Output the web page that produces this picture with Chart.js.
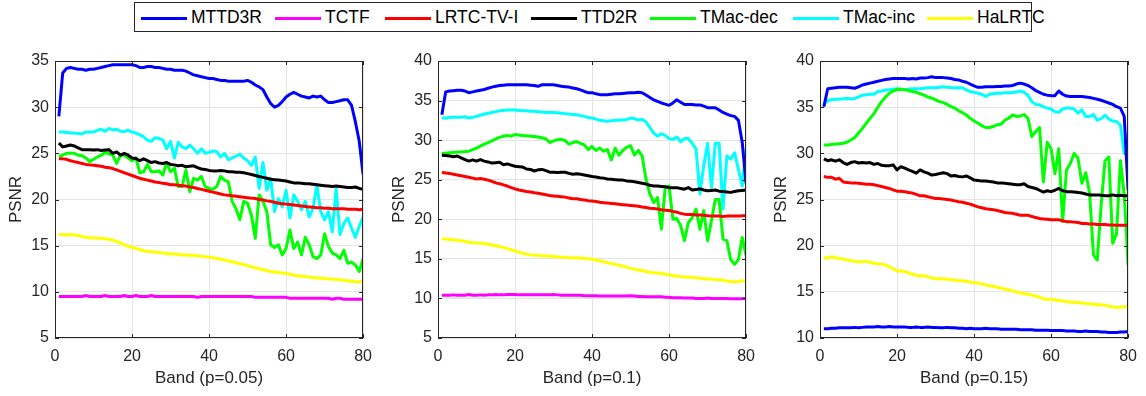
<!DOCTYPE html>
<html>
<head>
<meta charset="utf-8">
<script src="https://cdn.jsdelivr.net/npm/chart.js@4.4.0/dist/chart.umd.min.js"></script>
<style>
  body { margin: 0; width: 1146px; height: 396px; background: #fff; position: relative; overflow: hidden;
         font-family: "Liberation Sans", Arial, sans-serif; color: #000; }
  #legend { position: absolute; left: 134px; top: 2px; width: 898px; height: 30px; box-sizing: border-box;
            border: 1px solid #262626; background: #fff; }
  #legend .sw { position: absolute; top: 14px; height: 3px; width: 46px; }
  #legend .tx { position: absolute; top: 4px; font-size: 17.5px; line-height: 21px; white-space: nowrap; }
  canvas { position: absolute; top: 40px; }
</style>
</head>
<body>
<div id="legend"></div>
<canvas id="c1" width="386" height="356" style="left:-5px"></canvas>
<canvas id="c2" width="386" height="356" style="left:378px"></canvas>
<canvas id="c3" width="386" height="356" style="left:760px"></canvas>
<script>
// band index (x)
const bands = [1,2,3,4,5,6,7,8,9,10,11,12,13,14,15,16,17,18,19,20,
  21,22,23,24,25,26,27,28,29,30,31,32,33,34,35,36,37,38,39,40,
  41,42,43,44,45,46,47,48,49,50,51,52,53,54,55,56,57,58,59,60,
  61,62,63,64,65,66,67,68,69,70,71,72,73,74,75,76,77,78,79,80];

const methods = ['MTTD3R', 'TCTF', 'LRTC-TV-I', 'TTD2R', 'TMac-dec', 'TMac-inc', 'HaLRTC'];
const xTicks = [0, 20, 40, 60, 80];

// ---- p = 0.05 ----
const mttd3r_005 = [29.0,33.7,34.2,34.3,34.2,34.1,34.1,34.0,34.1,34.1, 34.2,34.3,34.4,34.5,34.6,34.6,34.6,34.6,34.6,34.6,
  34.5,34.3,34.3,34.4,34.4,34.3,34.3,34.2,34.1,34.1, 34.0,34.0,34.0,33.9,33.7,33.5,33.4,33.3,33.2,33.1,
  33.1,33.0,32.9,32.9,32.8,32.8,32.8,32.8,32.8,32.9, 32.7,32.4,32.2,31.9,31.1,30.4,30.0,30.2,30.6,31.1,
  31.4,31.6,31.4,31.2,31.1,31.0,31.2,31.1,31.2,30.8, 30.5,30.5,30.6,30.7,30.8,30.8,30.2,28.4,26.3,22.7];
const tctf_005 = [9.5,9.5,9.5,9.5,9.5,9.5,9.5,9.6,9.5,9.5, 9.5,9.5,9.6,9.5,9.5,9.5,9.5,9.6,9.5,9.5,
  9.6,9.5,9.5,9.5,9.6,9.5,9.5,9.5,9.5,9.5, 9.5,9.5,9.5,9.5,9.5,9.5,9.4,9.5,9.5,9.5,
  9.5,9.5,9.5,9.5,9.5,9.5,9.5,9.5,9.5,9.5, 9.5,9.4,9.4,9.4,9.4,9.4,9.4,9.4,9.4,9.4,
  9.3,9.3,9.3,9.3,9.3,9.3,9.3,9.3,9.3,9.3, 9.3,9.2,9.3,9.3,9.2,9.2,9.2,9.2,9.2,9.2];
const lrtc_005 = [24.4,24.4,24.35,24.2,24.1,24.0,23.9,23.8,23.75,23.7, 23.65,23.6,23.5,23.45,23.35,23.2,23.05,22.9,22.75,22.6,
  22.45,22.3,22.2,22.1,22.0,21.9,21.85,21.75,21.7,21.6, 21.6,21.55,21.5,21.45,21.35,21.3,21.2,21.1,21.0,20.9,
  20.8,20.7,20.6,20.5,20.45,20.4,20.35,20.3,20.25,20.2, 20.15,20.1,20.0,19.95,19.85,19.8,19.7,19.6,19.55,19.5,
  19.45,19.4,19.35,19.3,19.25,19.2,19.15,19.1,19.1,19.05, 19.05,19.0,19.0,19.0,19.0,18.95,18.95,18.95,18.9,18.95];
const ttd2r_005 = [26.1,25.7,25.8,25.9,25.8,25.6,25.4,25.4,25.4,25.35, 25.4,25.3,25.35,25.4,25.0,25.15,24.8,25.0,24.8,24.5,
  24.45,24.2,24.4,24.2,24.0,24.1,23.95,23.9,24.0,23.8, 23.75,23.65,23.7,23.55,23.6,23.65,23.45,23.3,23.25,23.15,
  23.1,23.1,23.15,23.1,23.0,23.0,22.95,22.95,22.9,22.8, 22.7,22.6,22.5,22.4,22.3,22.2,22.15,22.1,22.05,22.0,
  21.9,21.8,21.8,21.75,21.7,21.7,21.65,21.6,21.55,21.5, 21.45,21.4,21.45,21.4,21.35,21.3,21.3,21.35,21.2,21.1];
const tmacdec_005 = [24.7,24.8,25.0,25.0,25.0,24.8,24.75,24.5,24.1,24.35, 24.6,24.8,25.1,24.95,24.8,23.9,24.8,24.8,24.5,24.2,
  24.5,22.9,23.0,23.8,23.0,23.0,23.1,22.65,24.0,23.0, 23.4,21.4,21.4,23.2,20.85,22.3,22.1,22.5,21.4,21.2,
  21.1,21.4,22.5,22.1,21.9,19.8,19.0,17.8,19.8,19.6, 18.3,15.8,20.5,19.8,18.7,15.1,14.8,15.1,14.0,14.7,
  16.7,14.7,15.4,14.0,15.9,15.1,13.8,13.6,14.0,16.3, 14.9,14.2,14.0,13.6,14.5,13.1,13.2,12.9,12.2,13.6];
const tmacinc_005 = [27.3,27.3,27.25,27.2,27.2,27.15,27.1,27.3,27.3,27.3, 27.5,27.6,27.4,27.7,27.55,27.6,27.4,27.35,27.5,27.3,
  27.2,27.0,26.8,26.4,26.3,26.7,26.6,26.45,25.5,26.3, 24.5,26.2,25.7,25.5,25.9,25.5,25.0,25.5,25.0,25.1,
  25.25,25.2,24.6,25.0,24.3,24.5,24.7,24.9,24.5,24.2, 23.7,24.6,21.2,24.0,21.0,22.3,18.7,20.1,19.2,21.0,
  18.0,20.5,19.8,18.9,19.8,18.1,19.0,21.6,18.7,17.8, 18.7,16.5,21.2,16.2,17.4,18.0,16.9,15.9,17.1,18.1];
const halrtc_005 = [16.2,16.2,16.15,16.2,16.15,16.1,16.0,15.9,15.85,15.85, 15.8,15.8,15.75,15.7,15.6,15.45,15.3,15.1,14.95,14.8,
  14.7,14.55,14.45,14.4,14.35,14.3,14.25,14.2,14.15,14.1, 14.1,14.05,14.0,14.0,13.95,13.95,13.9,13.85,13.8,13.75,
  13.7,13.6,13.55,13.45,13.35,13.25,13.15,13.05,12.95,12.85, 12.7,12.6,12.5,12.4,12.3,12.2,12.15,12.1,12.05,12.0,
  11.9,11.8,11.75,11.7,11.65,11.6,11.55,11.5,11.5,11.45, 11.4,11.4,11.35,11.3,11.25,11.2,11.15,11.1,11.1,11.15];

// ---- p = 0.1 ----
const mttd3r_01 = [33.2,36.1,36.2,36.25,36.3,36.3,36.2,36.0,36.1,36.2, 36.3,36.4,36.55,36.7,36.8,36.9,36.95,37.0,37.0,37.0,
  37.0,37.0,37.0,36.95,36.9,36.8,37.0,37.0,37.0,37.0, 36.9,36.8,36.75,36.7,36.6,36.5,36.35,36.15,36.0,36.0,
  35.85,35.75,35.75,35.75,35.8,35.85,35.85,35.9,35.95,36.0, 36.0,36.05,36.0,35.7,35.4,35.1,34.9,34.7,34.55,34.4,
  34.7,35.1,34.8,34.5,34.5,34.5,34.45,34.45,34.3,34.1, 34.1,34.1,33.8,33.5,33.3,33.1,33.0,32.5,29.7,24.5];
const tctf_01 = [10.4,10.4,10.4,10.45,10.4,10.4,10.4,10.5,10.4,10.4, 10.45,10.4,10.45,10.45,10.5,10.45,10.45,10.5,10.5,10.5,
  10.45,10.45,10.45,10.45,10.45,10.45,10.45,10.45,10.45,10.5, 10.45,10.4,10.4,10.4,10.4,10.4,10.4,10.35,10.35,10.35,
  10.35,10.3,10.3,10.3,10.3,10.3,10.3,10.3,10.3,10.35, 10.3,10.25,10.25,10.2,10.2,10.2,10.2,10.2,10.15,10.15,
  10.1,10.1,10.1,10.05,10.05,10.05,10.0,10.0,10.0,10.05, 10.0,10.0,10.0,10.0,10.0,9.95,9.95,9.95,9.95,10.0];
const lrtc_01 = [25.9,25.85,25.8,25.7,25.6,25.5,25.4,25.3,25.2,25.1, 25.15,25.05,24.95,24.8,24.6,24.5,24.35,24.2,24.0,23.85,
  23.7,23.6,23.5,23.45,23.35,23.3,23.2,23.1,23.0,22.95, 22.9,22.85,22.8,22.7,22.6,22.6,22.5,22.45,22.35,22.3,
  22.25,22.15,22.1,22.05,22.0,21.95,21.9,21.85,21.8,21.75, 21.7,21.65,21.55,21.5,21.4,21.35,21.3,21.2,21.15,21.1,
  21.0,20.9,20.75,20.65,20.6,20.6,20.55,20.55,20.5,20.45, 20.4,20.4,20.4,20.35,20.4,20.4,20.4,20.4,20.45,20.45];
const ttd2r_01 = [28.1,28.05,28.0,27.9,28.0,27.75,27.55,27.35,27.5,27.35, 27.55,27.35,27.25,27.1,27.15,27.2,26.9,27.0,26.85,26.7,
  26.65,26.6,26.35,26.3,26.1,26.25,26.3,26.15,25.95,25.95, 25.9,25.95,25.95,25.8,25.7,25.75,25.7,25.6,25.5,25.4,
  25.35,25.25,25.2,25.1,25.05,25.0,24.95,24.95,24.85,24.8, 24.75,24.65,24.55,24.45,24.3,24.2,24.2,24.15,24.1,24.0,
  24.0,24.0,23.9,23.8,24.0,23.7,23.75,23.85,23.7,23.6, 23.65,23.7,23.55,23.5,23.45,23.4,23.5,23.6,23.65,23.7];
const tmacdec_01 = [28.3,28.35,28.4,28.45,28.5,28.5,28.55,28.6,28.8,29.0, 29.25,29.5,29.7,29.9,30.15,30.35,30.5,30.6,30.5,30.7,
  30.65,30.6,30.55,30.5,30.45,30.4,30.3,30.15,29.7,29.9, 30.05,30.1,29.95,29.5,29.7,29.8,29.6,29.4,28.8,29.2,
  28.7,29.0,28.6,28.8,27.5,29.0,28.1,28.7,29.1,29.3, 28.1,28.7,28.0,25.1,23.2,22.1,22.75,18.75,24.0,24.2,
  20.0,20.1,19.2,17.3,19.6,20.2,21.3,18.75,21.1,17.3, 19.8,22.5,22.5,17.5,17.3,14.9,14.3,14.9,17.7,15.4];
const tmacinc_01 = [32.8,32.8,32.85,32.9,32.9,32.9,32.95,32.8,32.9,33.0, 33.15,33.3,33.4,33.5,33.6,33.7,33.75,33.8,33.8,33.8,
  33.75,33.7,33.7,33.65,33.65,33.6,33.55,33.5,33.5,33.5, 33.45,33.4,33.35,33.3,33.25,33.2,33.1,33.0,32.85,32.8,
  32.65,32.5,32.45,32.4,32.45,32.5,32.5,32.55,32.6,32.8, 32.7,32.55,32.65,32.3,31.6,30.9,30.5,30.8,30.6,30.2,
  30.1,30.4,29.8,30.2,30.2,29.6,28.9,23.2,26.8,29.6, 24.0,29.6,29.6,21.3,28.0,27.6,28.4,26.35,24.2,29.0];
const halrtc_01 = [17.5,17.5,17.45,17.4,17.35,17.3,17.2,17.1,17.05,17.0, 17.0,16.95,16.85,16.75,16.65,16.55,16.45,16.3,16.15,16.0,
  15.85,15.7,15.6,15.5,15.45,15.45,15.4,15.35,15.35,15.3, 15.25,15.2,15.2,15.15,15.15,15.15,15.1,15.05,15.0,14.95,
  14.85,14.75,14.65,14.5,14.4,14.3,14.2,14.1,13.95,13.8, 13.7,13.6,13.5,13.4,13.3,13.25,13.2,13.15,13.05,13.0,
  12.9,12.8,12.75,12.7,12.7,12.65,12.6,12.55,12.5,12.45, 12.45,12.4,12.35,12.3,12.2,12.1,12.1,12.15,12.2,12.25];

// ---- p = 0.15 ----
const mttd3r_015 = [35.05,37.0,37.05,37.1,37.15,37.15,37.15,37.1,37.05,37.2, 37.4,37.5,37.6,37.7,37.8,37.9,38.0,38.05,38.1,38.1,
  38.1,38.1,38.05,38.1,38.05,38.15,38.15,38.2,38.3,38.2, 38.2,38.2,38.15,38.1,38.0,37.95,37.8,37.7,37.5,37.3,
  37.15,37.15,37.2,37.2,37.2,37.25,37.25,37.3,37.3,37.35, 37.5,37.6,37.5,37.35,37.1,36.8,36.6,36.4,36.3,36.25,
  36.25,36.75,36.4,36.2,36.15,36.15,36.15,36.15,36.1,36.05, 35.95,35.85,35.75,35.6,35.45,35.3,35.05,34.9,34.0,26.0];
const tctf_015 = [11.0,11.0,11.05,11.05,11.1,11.1,11.1,11.1,11.15,11.1, 11.15,11.2,11.2,11.2,11.25,11.2,11.2,11.25,11.2,11.2,
  11.2,11.2,11.15,11.15,11.2,11.15,11.15,11.2,11.15,11.15, 11.1,11.1,11.15,11.1,11.1,11.05,11.05,11.0,11.05,11.0,
  11.0,11.0,11.05,11.0,11.0,11.0,10.95,10.95,10.95,10.95, 10.95,10.9,10.9,10.9,10.9,10.85,10.85,10.85,10.85,10.8,
  10.8,10.8,10.8,10.75,10.75,10.75,10.7,10.7,10.75,10.7, 10.7,10.7,10.65,10.65,10.6,10.6,10.6,10.65,10.65,10.7];
const lrtc_015 = [27.5,27.4,27.4,27.2,27.3,26.9,26.85,26.8,26.8,26.75, 26.7,26.65,26.65,26.6,26.5,26.4,26.3,26.2,26.05,25.9,
  25.9,25.85,25.75,25.7,25.55,25.4,25.4,25.3,25.2,25.1, 25.1,25.05,25.0,24.95,24.85,24.75,24.7,24.6,24.5,24.35,
  24.2,24.1,24.0,23.95,23.9,23.8,23.7,23.6,23.55,23.5, 23.4,23.3,23.3,23.3,23.15,23.05,22.95,22.9,22.85,22.8,
  22.8,22.8,22.7,22.6,22.6,22.55,22.5,22.4,22.4,22.35, 22.35,22.3,22.3,22.3,22.25,22.25,22.2,22.2,22.2,22.2];
const ttd2r_015 = [29.4,29.2,29.3,29.15,29.3,29.0,28.8,29.0,29.1,28.95, 29.0,28.95,29.0,28.8,28.9,28.7,28.65,28.65,28.75,28.2,
  28.55,28.4,28.2,28.05,27.85,28.2,28.0,27.85,27.65,27.7, 27.8,27.9,27.8,27.55,27.6,27.5,27.45,27.55,27.35,27.1,
  27.05,27.0,27.0,26.95,26.9,26.8,26.8,26.75,26.7,26.65, 26.6,26.6,26.7,26.4,26.3,26.2,26.0,25.8,25.95,25.85,
  26.0,26.2,25.95,25.85,25.85,25.8,25.75,25.7,25.6,25.5, 25.5,25.5,25.45,25.4,25.4,25.5,25.4,25.45,25.4,25.4];
const tmacdec_015 = [30.9,30.9,30.95,31.0,31.05,31.1,31.2,31.45,31.7,32.2, 32.7,33.25,33.8,34.3,35.0,35.6,36.1,36.5,36.75,36.9,
  36.95,36.9,36.8,36.7,36.6,36.45,36.3,36.1,36.0,35.8, 35.6,35.5,35.3,35.05,34.9,34.6,34.4,34.15,33.8,33.5,
  33.25,33.0,32.8,32.8,32.9,33.1,33.15,33.6,33.8,34.15, 34.0,34.05,34.2,33.8,31.8,32.35,32.8,26.9,31.2,30.5,
  27.8,30.5,22.6,28.2,28.9,30.0,29.45,26.75,27.9,25.7, 19.0,18.45,24.4,29.2,29.6,20.25,21.3,29.2,25.5,17.9];
const tmacinc_015 = [35.35,35.7,35.8,35.85,35.85,35.9,35.95,35.9,35.95,36.1, 36.3,36.35,36.4,36.4,36.7,36.75,36.85,36.9,36.95,37.0,
  36.95,36.9,36.95,37.0,37.0,37.0,37.05,37.1,37.1,37.1, 37.15,37.2,37.15,37.1,37.1,37.1,37.1,36.85,36.7,36.6,
  36.5,36.4,36.15,36.4,36.45,36.5,36.5,36.55,36.55,36.6, 36.65,36.75,36.6,36.3,35.6,35.3,35.25,35.05,34.9,34.8,
  34.5,34.45,34.8,34.9,34.9,34.8,34.35,34.7,34.0,34.0, 34.2,33.6,33.75,34.15,33.7,33.5,33.45,33.05,30.0,32.2];
const halrtc_015 = [18.7,18.65,18.8,18.7,18.6,18.55,18.45,18.4,18.3,18.25, 18.25,18.3,18.2,18.1,18.05,18.0,17.9,17.75,17.5,17.25,
  17.25,17.2,17.05,16.9,16.8,16.75,16.75,16.65,16.5,16.4, 16.45,16.4,16.4,16.3,16.25,16.2,16.2,16.15,16.05,16.0,
  15.95,15.85,15.75,15.65,15.6,15.5,15.4,15.3,15.2,15.1, 15.0,14.9,14.8,14.75,14.65,14.55,14.4,14.25,14.2,14.2,
  14.15,14.05,14.0,13.95,13.9,13.85,13.85,13.8,13.75,13.7, 13.65,13.6,13.6,13.55,13.45,13.35,13.3,13.35,13.35,13.45];

// line colours (the third panel draws TCTF in blue, as in the original figure)
const colors = ['#0000ff', '#ff00ff', '#ff0000', '#000000', '#00ff00', '#00ffff', '#ffff00'];
const colors015 = ['#0000ff', '#0000ff', '#ff0000', '#000000', '#00ff00', '#00ffff', '#ffff00'];

// legend
const legendX = [6, 140, 250, 396, 515, 658, 792]; // swatch left, relative to legend box
const legend = document.getElementById('legend');
methods.forEach((m, i) => {
  const sw = document.createElement('div');
  sw.className = 'sw';
  sw.style.left = legendX[i] + 'px';
  sw.style.background = colors[i];
  const tx = document.createElement('div');
  tx.className = 'tx';
  tx.style.left = (legendX[i] + 50) + 'px';
  tx.textContent = m;
  legend.appendChild(sw);
  legend.appendChild(tx);
});

// MATLAB-style box with inward ticks
const boxPlugin = {
  id: 'box',
  afterDatasetsDraw(chart) {
    const { ctx, chartArea: a, scales: { x, y } } = chart;
    ctx.save();
    ctx.strokeStyle = '#262626';
    ctx.lineWidth = 1;
    ctx.strokeRect(Math.round(a.left) + 0.5, Math.round(a.top) + 0.5,
      Math.round(a.right - a.left) - 1, Math.round(a.bottom - a.top) - 1);
    ctx.beginPath();
    x.ticks.forEach(t => {
      const px = Math.round(x.getPixelForValue(t.value)) + 0.5;
      ctx.moveTo(px, a.bottom); ctx.lineTo(px, a.bottom - 4);
      ctx.moveTo(px, a.top); ctx.lineTo(px, a.top + 4);
    });
    y.ticks.forEach(t => {
      const py = Math.round(y.getPixelForValue(t.value)) + 0.5;
      ctx.moveTo(a.left, py); ctx.lineTo(a.left + 4, py);
      ctx.moveTo(a.right, py); ctx.lineTo(a.right - 4, py);
    });
    ctx.stroke();
    ctx.restore();
  }
};

function makeChart(id, series, cols, yMin, yMax, xTitle) {
  const datasets = series.map((vals, i) => ({
    label: methods[i],
    data: bands.map((b, j) => ({ x: b, y: vals[j] })),
    borderColor: cols[i],
    backgroundColor: cols[i],
    borderWidth: 3,
    pointRadius: 0,
    tension: 0,
    borderJoinStyle: 'round',
    fill: false
  }));
  new Chart(document.getElementById(id).getContext('2d'), {
    type: 'line',
    data: { datasets },
    plugins: [boxPlugin],
    options: {
      responsive: false,
      animation: false,
      devicePixelRatio: 1,
      layout: { padding: { left: 0, right: 14, top: 21, bottom: 0 } },
      plugins: { legend: { display: false }, tooltip: { enabled: false } },
      scales: {
        x: {
          type: 'linear', min: 0, max: 80,
          afterBuildTicks: s => { s.ticks = xTicks.map(v => ({ value: v })); },
          afterFit: s => { s.height = 58; },
          ticks: { color: '#262626', font: { size: 16, family: 'Liberation Sans' }, padding: 9, maxRotation: 0 },
          grid: { color: '#e4e4e4', drawTicks: false },
          border: { display: false },
          title: { display: true, text: xTitle, color: '#262626',
                   font: { size: 17, family: 'Liberation Sans' }, padding: { top: 7, bottom: 7 } }
        },
        y: {
          type: 'linear', min: yMin, max: yMax,
          afterFit: s => { s.width = 60; },
          ticks: { stepSize: 5, color: '#262626', font: { size: 16, family: 'Liberation Sans' }, padding: 6 },
          grid: { color: '#e4e4e4', drawTicks: false },
          border: { display: false },
          title: { display: true, text: 'PSNR', color: '#262626',
                   font: { size: 17, family: 'Liberation Sans' }, padding: { top: 11, bottom: 11 } }
        }
      }
    }
  });
}

makeChart('c1', [mttd3r_005, tctf_005, lrtc_005, ttd2r_005, tmacdec_005, tmacinc_005, halrtc_005],
  colors, 5, 35, 'Band (p=0.05)');
makeChart('c2', [mttd3r_01, tctf_01, lrtc_01, ttd2r_01, tmacdec_01, tmacinc_01, halrtc_01],
  colors, 5, 40, 'Band (p=0.1)');
makeChart('c3', [mttd3r_015, tctf_015, lrtc_015, ttd2r_015, tmacdec_015, tmacinc_015, halrtc_015],
  colors015, 10, 40, 'Band (p=0.15)');
</script>
</body>
</html>
